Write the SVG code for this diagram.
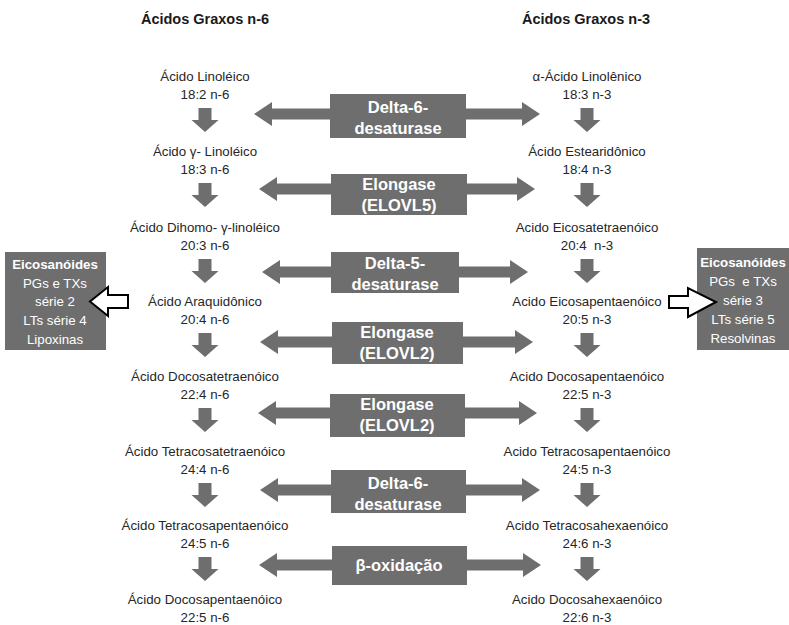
<svg xmlns="http://www.w3.org/2000/svg" width="789" height="625" viewBox="0 0 789 625">
<style>
.bg{fill:#ffffff}
.t{font-family:"Liberation Sans",Arial,sans-serif;font-size:13.3px;fill:#262626;text-anchor:middle}
.h{font-family:"Liberation Sans",Arial,sans-serif;font-size:14.5px;font-weight:bold;fill:#1a1a1a;text-anchor:middle}
.box{fill:#6e6e6e}
.bt{font-family:"Liberation Sans",Arial,sans-serif;font-size:16.5px;font-weight:bold;fill:#ffffff;text-anchor:middle}
.st{font-family:"Liberation Sans",Arial,sans-serif;font-size:13.3px;fill:#ffffff;text-anchor:middle}
.sb{font-weight:bold;font-size:13.3px}
.ar{fill:#6e6e6e}
.wa{fill:#ffffff;stroke:#000000;stroke-width:2;stroke-linejoin:miter}
</style>
<defs>
<polygon id="down" points="-6.5,0 6.5,0 6.5,12 13.5,12 0,24 -13.5,12 -6.5,12"/>
</defs>
<rect class="bg" x="0" y="0" width="789" height="625"/>

<g id="titles">
<text class="h" x="205" y="24">Ácidos Graxos n-6</text>
<text class="h" x="586" y="24">Ácidos Graxos n-3</text>
</g>

<g id="connectors">
<g class="ar">
<use href="#down" x="205" y="108"/>
<use href="#down" x="205" y="183"/>
<use href="#down" x="205" y="259"/>
<use href="#down" x="205" y="333"/>
<use href="#down" x="205" y="408"/>
<use href="#down" x="205" y="483"/>
<use href="#down" x="205" y="557"/>
<use href="#down" x="587" y="108"/>
<use href="#down" x="587" y="183"/>
<use href="#down" x="587" y="259"/>
<use href="#down" x="587" y="333"/>
<use href="#down" x="587" y="408"/>
<use href="#down" x="587" y="483"/>
<use href="#down" x="587" y="557"/>
<polygon points="254,114 272,102 272,108.5 522,108.5 522,102 540,114 522,126 522,119.5 272,119.5 272,126"/>
<polygon points="259,189 277,177 277,183.5 517,183.5 517,177 535,189 517,201 517,194.5 277,194.5 277,201"/>
<polygon points="262,272 280,260 280,266.5 510,266.5 510,260 528,272 510,284 510,277.5 280,277.5 280,284"/>
<polygon points="260,342 278,330 278,336.5 515,336.5 515,330 533,342 515,354 515,347.5 278,347.5 278,354"/>
<polygon points="258,413 276,401 276,407.5 519,407.5 519,401 537,413 519,425 519,418.5 276,418.5 276,425"/>
<polygon points="260,490 278,478 278,484.5 522,484.5 522,478 540,490 522,502 522,495.5 278,495.5 278,502"/>
<polygon points="259,565 277,553 277,559.5 523,559.5 523,553 541,565 523,577 523,570.5 277,570.5 277,577"/>
</g>
</g>

<g id="enz1"><rect class="box" x="330" y="94" width="136" height="44"/><text class="bt" x="398" y="113">Delta-6-</text><text class="bt" x="398" y="134">desaturase</text></g>
<g id="enz2"><rect class="box" x="331" y="174" width="136" height="41"/><text class="bt" x="399" y="190">Elongase</text><text class="bt" x="399" y="211">(ELOVL5)</text></g>
<g id="enz3"><rect class="box" x="331" y="252" width="128" height="41"/><text class="bt" x="395" y="269">Delta-5-</text><text class="bt" x="395" y="290">desaturase</text></g>
<g id="enz4"><rect class="box" x="332" y="322" width="131" height="42"/><text class="bt" x="397" y="338">Elongase</text><text class="bt" x="397" y="359">(ELOVL2)</text></g>
<g id="enz5"><rect class="box" x="330" y="394" width="135" height="43"/><text class="bt" x="397" y="410">Elongase</text><text class="bt" x="397" y="431">(ELOVL2)</text></g>
<g id="enz6"><rect class="box" x="331" y="470" width="135" height="43"/><text class="bt" x="398" y="489">Delta-6-</text><text class="bt" x="398" y="510">desaturase</text></g>
<g id="enz7"><rect class="box" x="332" y="546" width="135" height="39"/><text class="bt" x="399" y="571">β-oxidação</text></g>

<g id="n6-1"><text class="t" x="205" y="81">Ácido Linoléico</text><text class="t" x="205" y="99">18:2 n-6</text></g>
<g id="n6-2"><text class="t" x="205" y="156">Ácido γ- Linoléico</text><text class="t" x="205" y="174">18:3 n-6</text></g>
<g id="n6-3"><text class="t" x="205" y="232">Ácido Dihomo- γ-linoléico</text><text class="t" x="205" y="250">20:3 n-6</text></g>
<g id="n6-4"><text class="t" x="205" y="306">Ácido Araquidônico</text><text class="t" x="205" y="324">20:4 n-6</text></g>
<g id="n6-5"><text class="t" x="205" y="381">Ácido Docosatetraenóico</text><text class="t" x="205" y="399">22:4 n-6</text></g>
<g id="n6-6"><text class="t" x="205" y="456">Ácido Tetracosatetraenóico</text><text class="t" x="205" y="474">24:4 n-6</text></g>
<g id="n6-7"><text class="t" x="205" y="530">Ácido Tetracosapentaenóico</text><text class="t" x="205" y="548">24:5 n-6</text></g>
<g id="n6-8"><text class="t" x="205" y="604">Ácido Docosapentaenóico</text><text class="t" x="205" y="622">22:5 n-6</text></g>

<g id="n3-1"><text class="t" x="587" y="81">α-Ácido Linolênico</text><text class="t" x="587" y="99">18:3 n-3</text></g>
<g id="n3-2"><text class="t" x="587" y="156">Ácido Estearidônico</text><text class="t" x="587" y="174">18:4 n-3</text></g>
<g id="n3-3"><text class="t" x="587" y="232">Acido Eicosatetraenóico</text><text class="t" x="587" y="250" xml:space="preserve">20:4  n-3</text></g>
<g id="n3-4"><text class="t" x="587" y="306">Acido Eicosapentaenóico</text><text class="t" x="587" y="324">20:5 n-3</text></g>
<g id="n3-5"><text class="t" x="587" y="381">Acido Docosapentaenóico</text><text class="t" x="587" y="399">22:5 n-3</text></g>
<g id="n3-6"><text class="t" x="587" y="456">Acido Tetracosapentaenóico</text><text class="t" x="587" y="474">24:5 n-3</text></g>
<g id="n3-7"><text class="t" x="587" y="530">Acido Tetracosahexaenóico</text><text class="t" x="587" y="548">24:6 n-3</text></g>
<g id="n3-8"><text class="t" x="587" y="604">Acido Docosahexaenóico</text><text class="t" x="587" y="622">22:6 n-3</text></g>

<g id="eico-left">
<rect class="box" x="5" y="252" width="101" height="98"/>
<text class="st sb" x="55" y="269">Eicosanóides</text>
<text class="st" x="55" y="288">PGs e TXs</text>
<text class="st" x="55" y="306">série 2</text>
<text class="st" x="55" y="325">LTs série 4</text>
<text class="st" x="55" y="344">Lipoxinas</text>
</g>
<g id="eico-right">
<rect class="box" x="697" y="248" width="95" height="102"/>
<text class="st sb" x="743" y="267">Eicosanóides</text>
<text class="st" x="743" y="286" xml:space="preserve">PGs  e TXs</text>
<text class="st" x="743" y="305">série 3</text>
<text class="st" x="743" y="324">LTs série 5</text>
<text class="st" x="743" y="343">Resolvinas</text>
</g>

<g id="connectors-out">
<polygon class="wa" points="128,295 108,295 108,287 90,301.5 108,316 108,308 128,308"/>
<polygon class="wa" points="669,296 688,296 688,288 716,302 688,317 688,308 669,308"/>
</g>
</svg>
